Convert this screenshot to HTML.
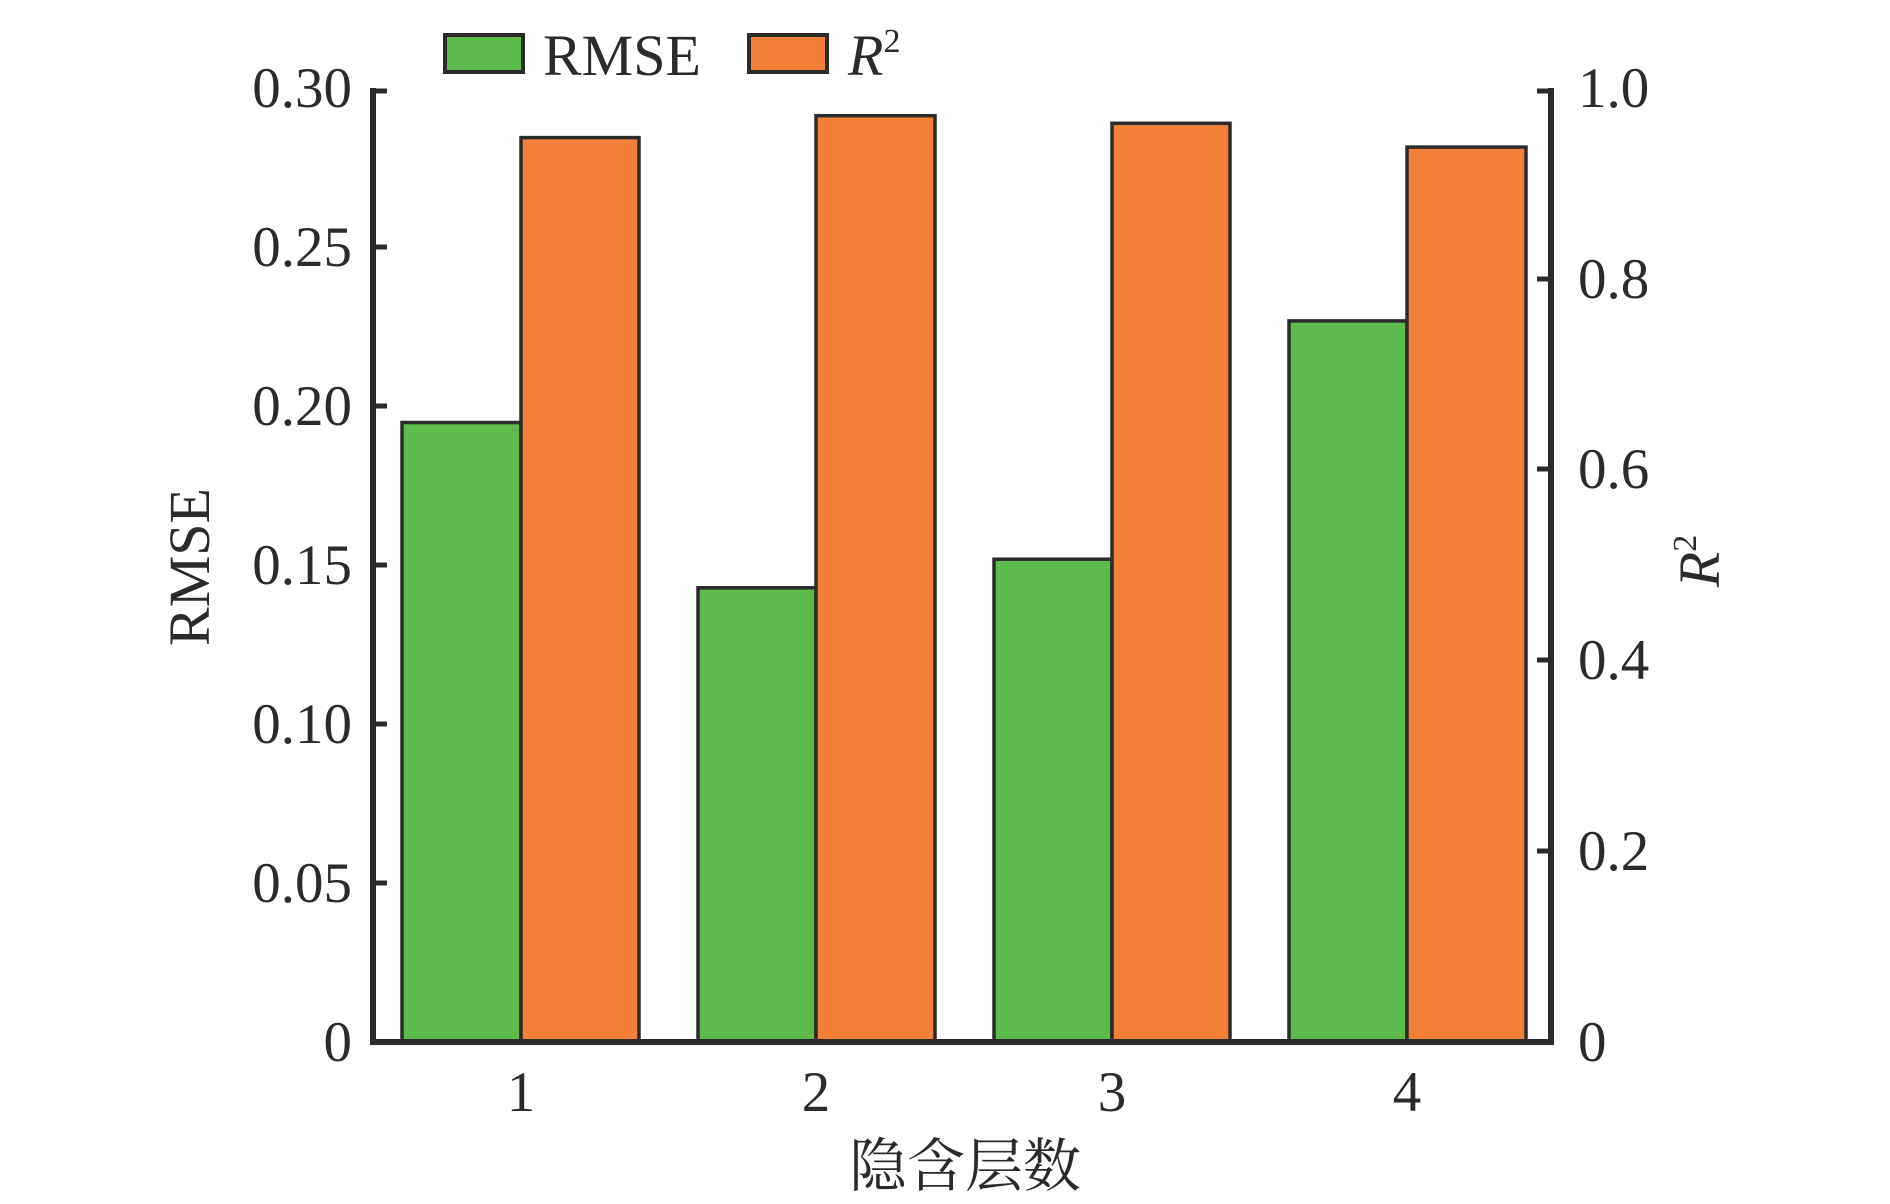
<!DOCTYPE html>
<html><head><meta charset="utf-8"><style>
html,body{margin:0;padding:0;background:#fff;}
</style></head><body>
<svg width="1890" height="1199" viewBox="0 0 1890 1199" xmlns="http://www.w3.org/2000/svg" font-family="'Liberation Serif','Noto Serif CJK SC',serif" fill="#2b2b2b">
<g stroke="#2b2b2b" stroke-width="3.5">
<rect x="402" y="422.5" width="119" height="619.5" fill="#5dbb4b"/>
<rect x="521" y="137.6" width="118" height="904.4" fill="#f48038"/>
<rect x="698" y="587.8" width="118" height="454.2" fill="#5dbb4b"/>
<rect x="816" y="115.7" width="119" height="926.3" fill="#f48038"/>
<rect x="994" y="559.2" width="118" height="482.8" fill="#5dbb4b"/>
<rect x="1112" y="123.3" width="118" height="918.7" fill="#f48038"/>
<rect x="1289" y="320.9" width="118" height="721.1" fill="#5dbb4b"/>
<rect x="1407" y="147.1" width="119" height="894.9" fill="#f48038"/>
</g>
<g stroke="#2b2b2b" stroke-width="6" fill="none">
<path d="M373,88 V1042 H1551 V88"/>
</g>
<g stroke="#2b2b2b" stroke-width="5">
<line x1="373" y1="91" x2="387" y2="91"/>
<line x1="373" y1="247" x2="387" y2="247"/>
<line x1="373" y1="406" x2="387" y2="406"/>
<line x1="373" y1="565" x2="387" y2="565"/>
<line x1="373" y1="724" x2="387" y2="724"/>
<line x1="373" y1="883" x2="387" y2="883"/>
<line x1="1551" y1="91" x2="1537" y2="91"/>
<line x1="1551" y1="279" x2="1537" y2="279"/>
<line x1="1551" y1="469" x2="1537" y2="469"/>
<line x1="1551" y1="660" x2="1537" y2="660"/>
<line x1="1551" y1="851" x2="1537" y2="851"/>
</g>
<g font-size="57" text-anchor="end">
<text x="352" y="107">0.30</text>
<text x="352" y="266">0.25</text>
<text x="352" y="425">0.20</text>
<text x="352" y="584">0.15</text>
<text x="352" y="743">0.10</text>
<text x="352" y="902">0.05</text>
<text x="352" y="1061">0</text>
</g>
<g font-size="57" text-anchor="start">
<text x="1578" y="107">1.0</text>
<text x="1578" y="298">0.8</text>
<text x="1578" y="488">0.6</text>
<text x="1578" y="679">0.4</text>
<text x="1578" y="870">0.2</text>
<text x="1578" y="1061">0</text>
</g>
<g font-size="57" text-anchor="middle">
<text x="521" y="1111">1</text>
<text x="816" y="1111">2</text>
<text x="1112" y="1111">3</text>
<text x="1407" y="1111">4</text>
</g>
<text x="965" y="1186" font-size="58" text-anchor="middle">隐含层数</text>
<text transform="translate(209,567) rotate(-90)" font-size="58" text-anchor="middle">RMSE</text>
<text transform="translate(1719,561) rotate(-90)" font-size="58" text-anchor="middle" font-style="italic">R<tspan font-style="normal" font-size="34" dy="-23">2</tspan></text>
<g stroke="#2b2b2b" stroke-width="4">
<rect x="445" y="35" width="78" height="37" fill="#5dbb4b"/>
<rect x="749" y="35" width="78" height="37" fill="#f48038"/>
</g>
<text x="543" y="75" font-size="58">RMSE</text>
<text x="848" y="75" font-size="58" font-style="italic">R<tspan font-style="normal" font-size="34" dy="-23">2</tspan></text>
</svg>
</body></html>
